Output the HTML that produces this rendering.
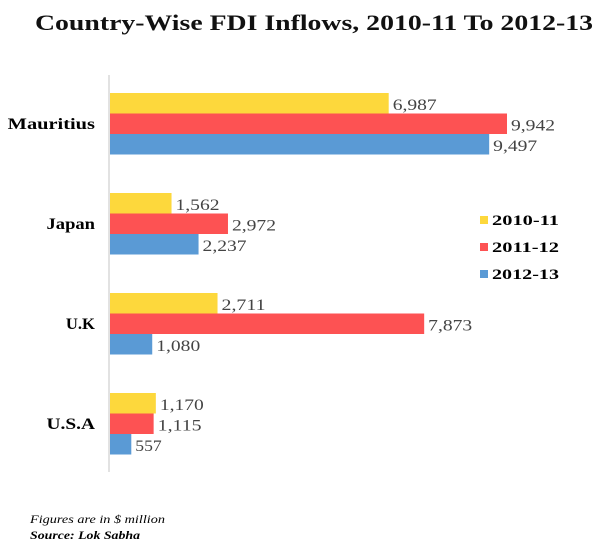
<!DOCTYPE html>
<html><head><meta charset="utf-8"><style>
body{margin:0;background:#fff;}
svg{display:block;font-family:"Liberation Serif",serif;}
</style></head><body>
<svg width="609" height="549" id="chart">
<text x="35" y="30" font-size="22" font-weight="bold" fill="#111" textLength="558" lengthAdjust="spacingAndGlyphs">Country-Wise FDI Inflows, 2010-11 To 2012-13</text>
<line x1="109" y1="75" x2="109" y2="472" stroke="#d8d8d8" stroke-width="1.5"/>
<g id="bars"></g>
<g>
<rect x="480" y="216" width="8" height="8" fill="#fdd83c"/>
<text x="492" y="225" font-size="15" font-weight="bold" textLength="67" lengthAdjust="spacingAndGlyphs">2010-11</text>
<rect x="480" y="243" width="8" height="8" fill="#fd5253"/>
<text x="492" y="252" font-size="15" font-weight="bold" textLength="67" lengthAdjust="spacingAndGlyphs">2011-12</text>
<rect x="480" y="270" width="8" height="8" fill="#5a9ad5"/>
<text x="492" y="279" font-size="15" font-weight="bold" textLength="67" lengthAdjust="spacingAndGlyphs">2012-13</text>
</g>
<text x="30" y="523" font-size="12" font-style="italic" textLength="135" lengthAdjust="spacingAndGlyphs">Figures are in $ million</text>
<text x="30" y="539" font-size="12" font-style="italic" font-weight="bold" textLength="110" lengthAdjust="spacingAndGlyphs">Source: Lok Sabha</text>
</svg>
<script>
const categories=["Mauritius","Japan","U.K","U.S.A"];
const series2010=[6987,1562,2711,1170];
const series2011=[9942,2972,7873,1115];
const series2012=[9497,2237,1080,557];
const seriesNames=["2010-11","2011-12","2012-13"];
const colors=["#fdd83c","#fd5253","#5a9ad5"];
const NS="http://www.w3.org/2000/svg";
const x0=109, scale=398/9942;
const xs=v=>x0+v*scale;
const groupY=i=>93+i*100;
const g=document.getElementById("bars");
const all=[series2010,series2011,series2012];
categories.forEach((c,i)=>{
  const t=document.createElementNS(NS,"text");
  t.setAttribute("x",95);t.setAttribute("y",groupY(i)+36);
  t.setAttribute("text-anchor","end");t.setAttribute("font-size","16");t.setAttribute("font-weight","bold");
  t.setAttribute("textLength",c.length*9.7);t.setAttribute("lengthAdjust","spacingAndGlyphs");
  t.textContent=c;
  
  
  g.appendChild(t);
  all.forEach((s,k)=>{
    const y=groupY(i)+k*20.5;
    const r=document.createElementNS(NS,"rect");
    r.setAttribute("x",x0+1);r.setAttribute("y",y);
    r.setAttribute("width",xs(s[i])-x0-1);r.setAttribute("height",20.5);
    r.setAttribute("fill",colors[k]);
    
    
    g.appendChild(r);
    const l=document.createElementNS(NS,"text");
    const txt=s[i].toLocaleString("en-US");
    l.setAttribute("x",xs(s[i])+4);l.setAttribute("y",y+17);
    l.setAttribute("font-size","16");l.setAttribute("fill","#444");
    l.setAttribute("textLength",txt.length*8.8);l.setAttribute("lengthAdjust","spacingAndGlyphs");
    l.textContent=txt;
    
    
    g.appendChild(l);
  });
});
</script>
</body></html>
